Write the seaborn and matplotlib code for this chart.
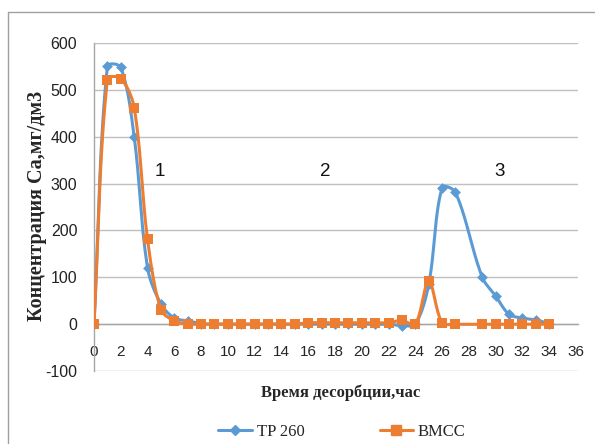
import numpy as np
import pandas as pd
import seaborn as sns
import matplotlib
matplotlib.use("Agg")
import matplotlib.pyplot as plt
from matplotlib.lines import Line2D

# ---- data ----
hours = [0, 1, 2, 3, 4, 5, 6, 7, 8, 9, 10, 11, 12, 13, 14, 15, 16, 17, 18, 19,
         20, 21, 22, 23, 24, 25, 26, 27, 29, 30, 31, 32, 33, 34]
tp260 = [0, 550, 548, 400, 120, 43, 13, 7, 1, 0, 0, 0, 0, 0, 0, 0, 0, 0, 0, 0,
         0, 0, 0, -3, 0, 85, 291, 281, 100, 60, 21, 13, 9, 1]
bmcc = [0, 522, 524, 462, 181, 31, 7, 0, 0, 0, 0, 0, 0, 0, 0, 0, 3, 3, 3, 3,
        3, 3, 3, 8, 0, 92, 3, 0, 0, 0, 0, 0, 0, 0]
series_names = ["TP 260", "ВМСС"]
annot_labels = ["1", "2", "3"]
annot_x = [4.95, 17.3, 30.3]
annot_y = [325, 325, 325]
x_ticks = list(range(0, 37, 2))
y_ticks = list(range(-100, 601, 100))

BLUE = "#5B9BD5"
ORANGE = "#ED7D31"

# pixel scale of one data unit (x, y) used for Excel-like smoothing
PX_X = 13.39
PX_Y = 0.4683


def smooth(xs, ys, n=30):
    """Excel-like smoothed line: Bezier segments, tangents weighted by pixel segment lengths."""
    P = np.column_stack([np.asarray(xs, float) * PX_X, np.asarray(ys, float) * PX_Y])
    out = []
    m = len(P)
    for i in range(m - 1):
        p0 = P[i - 1] if i > 0 else P[i]
        p1 = P[i]
        p2 = P[i + 1]
        p3 = P[i + 2] if i + 2 < m else P[i + 1]
        d01 = np.linalg.norm(p1 - p0)
        d12 = np.linalg.norm(p2 - p1)
        d23 = np.linalg.norm(p3 - p2)
        f1 = d12 / (d01 + d12) if (d01 + d12) > 0 else 0
        f2 = d12 / (d12 + d23) if (d12 + d23) > 0 else 0
        b1 = p1 + (p2 - p0) * f1 / 3.0
        b2 = p2 - (p3 - p1) * f2 / 3.0
        t = np.linspace(0, 1, n, endpoint=(i == m - 2))[:, None]
        seg = ((1 - t) ** 3) * p1 + 3 * ((1 - t) ** 2) * t * b1 + 3 * (1 - t) * t ** 2 * b2 + t ** 3 * p2
        out.append(seg)
    out = np.vstack(out)
    return out[:, 0] / PX_X, out[:, 1] / PX_Y


sns.set_theme(style="white")
plt.rcParams["axes.unicode_minus"] = False
plt.rcParams["font.family"] = ["Liberation Sans", "DejaVu Sans"]

fig = plt.figure(figsize=(5.95, 4.44), dpi=100)
ax = fig.add_axes([94 / 595, 1 - 371 / 444, (578 - 94) / 595, (371 - 43) / 444])

df = pd.DataFrame({"x": hours, "tp": tp260, "bm": bmcc})

for col, color, marker, ms in [("tp", BLUE, "D", 5.5), ("bm", ORANGE, "s", 7)]:
    sx, sy = smooth(df["x"].values, df[col].values)
    sm = pd.DataFrame({"x": sx, "y": sy})
    sns.lineplot(data=sm, x="x", y="y", sort=False, estimator=None, ax=ax,
                 color=color, lw=2.2, zorder=3 if col == "tp" else 4)
    sns.scatterplot(data=df, x="x", y=col, ax=ax, color=color, marker=marker,
                    s=ms ** 2, linewidth=0, zorder=3.5 if col == "tp" else 4.5)

ax.set_xlim(0, 36.15)
ax.set_ylim(-100, 600)
ax.set_xticks(x_ticks)
ax.set_yticks(y_ticks)
ax.set_xticklabels([str(v) for v in x_ticks], fontsize=11.5, color="#222222")
ax.set_yticklabels([str(v) for v in y_ticks], fontsize=11.5, color="#222222")
ax.set_xlabel("")
ax.set_ylabel("")

ax.grid(axis="y", color="#BFBFBF", lw=1.0)
ax.grid(axis="x", visible=False)
for s in ["top", "right"]:
    ax.spines[s].set_visible(False)
ax.spines["bottom"].set_position(("data", 0))
ax.spines["bottom"].set_color("#A6A6A6")
ax.spines["left"].set_color("#A6A6A6")
ax.spines["bottom"].set_linewidth(1.0)
ax.spines["left"].set_linewidth(1.0)
ax.tick_params(axis="x", direction="out", length=5, width=1, color="#A6A6A6", pad=10)
ax.tick_params(axis="y", direction="out", length=5, width=1, color="#A6A6A6", pad=7)
ax.set_axisbelow(True)

for lab, xx, yy in zip(annot_labels, annot_x, annot_y):
    ax.text(xx, yy, lab, fontsize=13.5, ha="center", va="center", color="#111111")

serif = ["Liberation Serif", "DejaVu Serif"]
fig.text(37 / 595, 1 - 206 / 444, "Концентрация Са,мг/дм3", rotation=90,
         ha="center", va="center", fontsize=14.5, fontweight="bold", family=serif)
fig.text(341 / 595, 1 - 393 / 444, "Время десорбции,час", ha="center", va="center",
         fontsize=12, fontweight="bold", family=serif)

handles = [Line2D([0], [0], color=BLUE, lw=2.2, marker="D", ms=5),
           Line2D([0], [0], color=ORANGE, lw=2.2, marker="s", ms=6.5)]
fig.legend(handles, series_names, loc="center", bbox_to_anchor=(342 / 595, 1 - 432 / 444),
           ncol=2, frameon=False, prop={"family": serif, "size": 12},
           handlelength=2.0, handletextpad=0.3, columnspacing=4.5)

# chart border
fig.add_artist(Line2D([8 / 595, 8 / 595], [0, 1 - 12 / 444], transform=fig.transFigure,
                      color="#A0A0A0", lw=1))
fig.add_artist(Line2D([8 / 595, 1], [1 - 12 / 444, 1 - 12 / 444], transform=fig.transFigure,
                      color="#A0A0A0", lw=1))

fig.savefig("out.png", dpi=100)
